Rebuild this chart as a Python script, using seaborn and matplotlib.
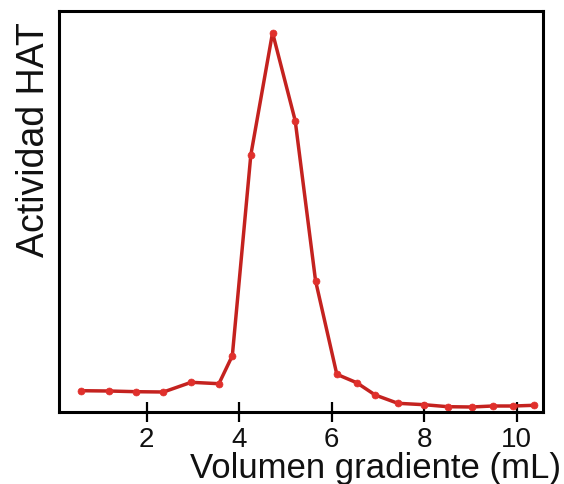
import matplotlib
matplotlib.use("Agg")
import matplotlib.pyplot as plt
import seaborn as sns
import pandas as pd

# Data (x in mL, y in arbitrary activity units)
volume_ml = [0.57, 1.18, 1.77, 2.36, 2.96, 3.56, 3.85, 4.25, 4.72, 5.21,
             5.65, 6.11, 6.54, 6.94, 7.43, 8.00, 8.51, 9.03, 9.48, 9.93, 10.38]
hat_activity = [20.8, 20.5, 19.8, 19.5, 29.2, 27.8, 55.8, 256.5, 378.8, 290.8,
                130.8, 37.2, 28.8, 16.5, 8.2, 6.8, 4.8, 4.5, 5.5, 5.5, 6.2]
x_ticks = [2, 4, 6, 8, 10]

df = pd.DataFrame({"vol": volume_ml, "act": hat_activity})

sns.set_theme(style="white")
plt.rcParams["font.family"] = ["Liberation Sans", "DejaVu Sans"]

fig = plt.figure(figsize=(5.64, 4.84), dpi=100)
ax = fig.add_axes([58.5 / 564, 1 - 411.5 / 484, (543 - 58.5) / 564, (411.5 - 11) / 484])

sns.lineplot(data=df, x="vol", y="act", ax=ax, color="#c4221f", linewidth=2.5,
             marker="o", markersize=5, markerfacecolor="#e0302c",
             markeredgecolor="#e0302c", markeredgewidth=0.5)

ax.set_xlim(0.09, 10.57)
ax.set_ylim(0, 400.5)
ax.set_xticks(x_ticks)
ax.set_xticklabels([str(t) for t in x_ticks])
ax.set_yticks([])

for s in ax.spines.values():
    s.set_color("black")
    s.set_linewidth(2.2)
    s.set_visible(True)

ax.tick_params(axis="x", direction="inout", length=14.5, width=1.6, color="black",
               labelsize=20, pad=4, labelcolor="#111111", bottom=True)

ax.set_xlabel("Volumen gradiente (mL)", fontsize=25, color="#111111")
ax.xaxis.label.set_va("baseline")
ax.xaxis.set_label_coords(376 / 564, (484 - 478) / 484, transform=fig.transFigure)

ax.set_ylabel("Actividad HAT", fontsize=27, color="#111111")
ax.yaxis.label.set_va("baseline")
ax.yaxis.set_label_coords(44 / 564, (484 - 140) / 484, transform=fig.transFigure)

fig.savefig("out.png", dpi=100)
